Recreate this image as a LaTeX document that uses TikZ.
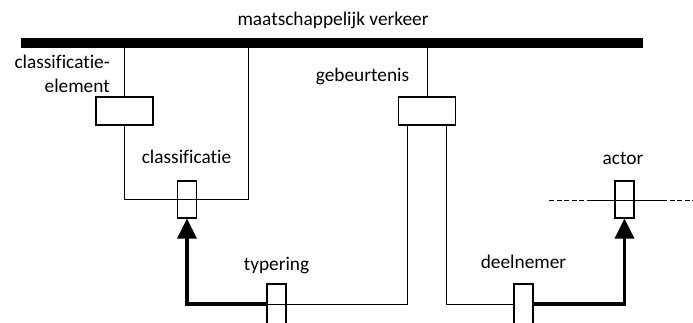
\documentclass[tikz,border=0pt]{standalone}
\usepackage{fontspec}
\setmainfont{Carlito}[Ligatures={NoCommon}]
\usetikzlibrary{arrows.meta}
\usetikzlibrary{calc}

\begin{document}
\begin{tikzpicture}[x=1bp, y=-1bp]
        % ================= stijlen =================
        \tikzset{
            % tekstlabels
            lbl/.style={font=\fontsize{19.4}{24}\selectfont, inner sep=0pt},
            % objecttype: breed blok
            objbox/.style={draw=black, line width=1.1bp, minimum width=57bp, minimum height=28bp, inner sep=0pt},
            % rol: smal blok
            rolebox/.style={draw=black, line width=1.1bp, minimum width=19bp, minimum height=37bp, inner sep=0pt},
            % gewone lijn
            edge/.style={line width=1bp, black},
            % typering (dik, met pijl)
            typeedge/.style={line width=3.2bp, black, -{Triangle[length=20bp, width=19bp]}},
            % balk bovenaan
            bus/.style={line width=10bp, black},
            % open einde
            openedge/.style={line width=1bp, black, dash pattern=on 5bp off 2.5bp}
        }
        \clip (0,0) rectangle (693,322);

        % ================= balk: maatschappelijk verkeer =================
        \node[lbl, anchor=base] (title) at (333,25) {maatschappelijk verkeer};
        \coordinate (busL) at (21,43);
        \coordinate (busR) at (643,43);
        \draw[bus] (busL) -- (busR);

        % ================= classificatie (links) =================
        \node[objbox] (ce) at (124.5,111) {};
        \node[lbl, anchor=base east, align=right] (lblce) at (110,92) {classificatie-\\element};
        \node[rolebox] (rcl) at (187,199.5) {};
        \node[lbl, anchor=base] (lblcl) at (186.5,163) {classificatie};
        \coordinate (clsR) at (248,43);

        \draw[edge] (ce.north |- busL) -- (ce.north);
        \draw[edge] (ce.south) |- (rcl.center) -| (clsR);

        % ================= gebeurtenis (midden) =================
        \node[objbox] (gb) at (427,111) {};
        \node[lbl, anchor=base] (lblgb) at (362.5,81) {gebeurtenis};
        \draw[edge] (gb.north |- busL) -- (gb.north);

        % ================= typering =================
        \node[rolebox, minimum height=40bp] (rty) at (276.5,304) {};
        \node[lbl, anchor=base] (lblty) at (276.5,270) {typering};
        \draw[edge] (rty.west) -| ([xshift=10bp]gb.south west);
        \draw[typeedge] (rty.west) -| (rcl.south);

        % ================= deelnemer =================
        \node[rolebox, minimum height=40bp] (rdn) at (523.5,304) {};
        \node[lbl, anchor=base] (lbldn) at (523.5,268) {deelnemer};
        \draw[edge] (rdn.west) -| ([xshift=-10bp]gb.south east);

        % ================= actor (rechts) =================
        \node[rolebox] (rac) at (624.5,199.5) {};
        \node[lbl, anchor=base] (lblac) at (623,164) {actor};
        \coordinate (acL) at (549,200);
        \coordinate (acL2) at (587,200);
        \coordinate (acR2) at (662,200);
        \coordinate (acR) at (695,200);
        \draw[openedge] (acL) -- (acL2);
        \draw[edge] (acL2) -- (acR2);
        \draw[openedge] (acR2) -- (acR);
        \draw[typeedge] (rdn.east) -| (rac.south);

    \end{tikzpicture}
\end{document}
